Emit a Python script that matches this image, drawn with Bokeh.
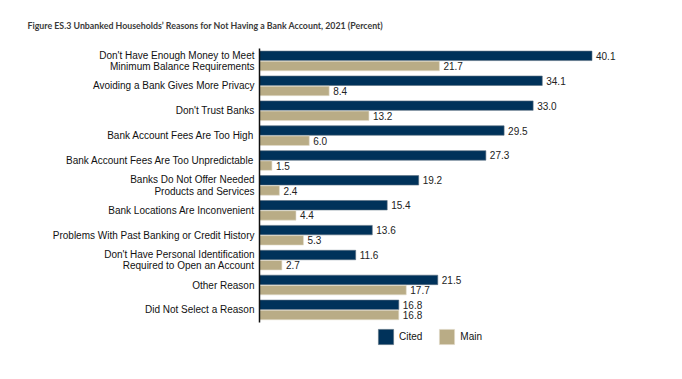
import numpy as np
from bokeh.plotting import figure
from bokeh.models import ColumnDataSource, Range1d, Legend, LegendItem, FixedTicker
from bokeh.embed import file_html
from bokeh.resources import INLINE

categories = [
    "Don't Have Enough Money to Meet\nMinimum Balance Requirements",
    "Avoiding a Bank Gives More Privacy",
    "Don't Trust Banks",
    "Bank Account Fees Are Too High",
    "Bank Account Fees Are Too Unpredictable",
    "Banks Do Not Offer Needed\nProducts and Services",
    "Bank Locations Are Inconvenient",
    "Problems With Past Banking or Credit History",
    "Don't Have Personal Identification\nRequired to Open an Account",
    "Other Reason",
    "Did Not Select a Reason",
]
cited = [40.1, 34.1, 33.0, 29.5, 27.3, 19.2, 15.4, 13.6, 11.6, 21.5, 16.8]
main = [21.7, 8.4, 13.2, 6.0, 1.5, 2.4, 4.4, 5.3, 2.7, 17.7, 16.8]

pos = np.arange(len(categories), dtype=float)
OFF = 0.205
source = ColumnDataSource(dict(
    y_cited=pos - OFF,
    y_main=pos + OFF,
    cited=cited,
    main=main,
    cited_lbl=["%.1f" % v for v in cited],
    main_lbl=["%.1f" % v for v in main],
))

NAVY = "#00325A"
TAN = "#B9AC86"
FONT = "Liberation Sans"

p = figure(
    width=672, height=370,
    y_range=Range1d(start=11.63, end=-0.5),
    x_range=Range1d(0, 48),
    x_axis_location=None,
    output_backend="svg", toolbar_location=None,
    min_border_left=259, min_border_top=48, min_border_bottom=20, min_border_right=15,
)
p.outline_line_color = None
p.grid.visible = False
p.background_fill_color = "white"

r1 = p.hbar(y="y_cited", right="cited", height=0.38, source=source,
            fill_color=NAVY, line_color="#5a6f80", line_width=0.6)
r2 = p.hbar(y="y_main", right="main", height=0.38, source=source,
            fill_color=TAN, line_color="#e2dccb", line_width=0.6)

p.text(x="cited", y="y_cited", text="cited_lbl", source=source,
       x_offset=4, text_baseline="middle", text_align="left",
       text_font_size="10px", text_color="#222222", text_font={"value": FONT})
p.text(x="main", y="y_main", text="main_lbl", source=source,
       x_offset=4, text_baseline="middle", text_align="left",
       text_font_size="10px", text_color="#222222", text_font={"value": FONT})

ax = p.yaxis[0]
ax.ticker = FixedTicker(ticks=list(pos))
ax.major_label_overrides = {float(i): c for i, c in zip(pos, categories)}
ax.bounds = (-0.5, len(categories) - 0.5)
ax.axis_line_color = "#111111"
ax.axis_line_width = 1.5
ax.major_tick_line_color = None
ax.minor_tick_line_color = None
ax.major_tick_out = 0
ax.major_label_standoff = 5
ax.major_label_text_font = FONT
ax.major_label_text_font_size = "10px"
ax.major_label_text_color = "#111111"
ax.major_label_text_line_height = 1.05

p.title.text = "Figure ES.3 Unbanked Households\u2019 Reasons for Not Having a Bank Account, 2021 (Percent)"
p.title.text_font = "Lato"
p.title.text_font_style = "bold"
p.title.text_font_size = "8.8px"
p.title.text_color = "#3a3a3a"
p.title.align = "left"
p.title.offset = -232
p.title.standoff = 35

legend = Legend(items=[LegendItem(label="Cited", renderers=[r1]),
                       LegendItem(label="Main", renderers=[r2])],
                location=(117, 4), orientation="horizontal",
                glyph_width=19, glyph_height=19, label_standoff=4, spacing=15,
                padding=0, margin=0, border_line_color=None, background_fill_alpha=0,
                label_text_font=FONT, label_text_font_size="10px", label_text_color="#111111",
                label_height=19)
p.add_layout(legend, "center")

open("out.html", "w").write(file_html(p, INLINE))
